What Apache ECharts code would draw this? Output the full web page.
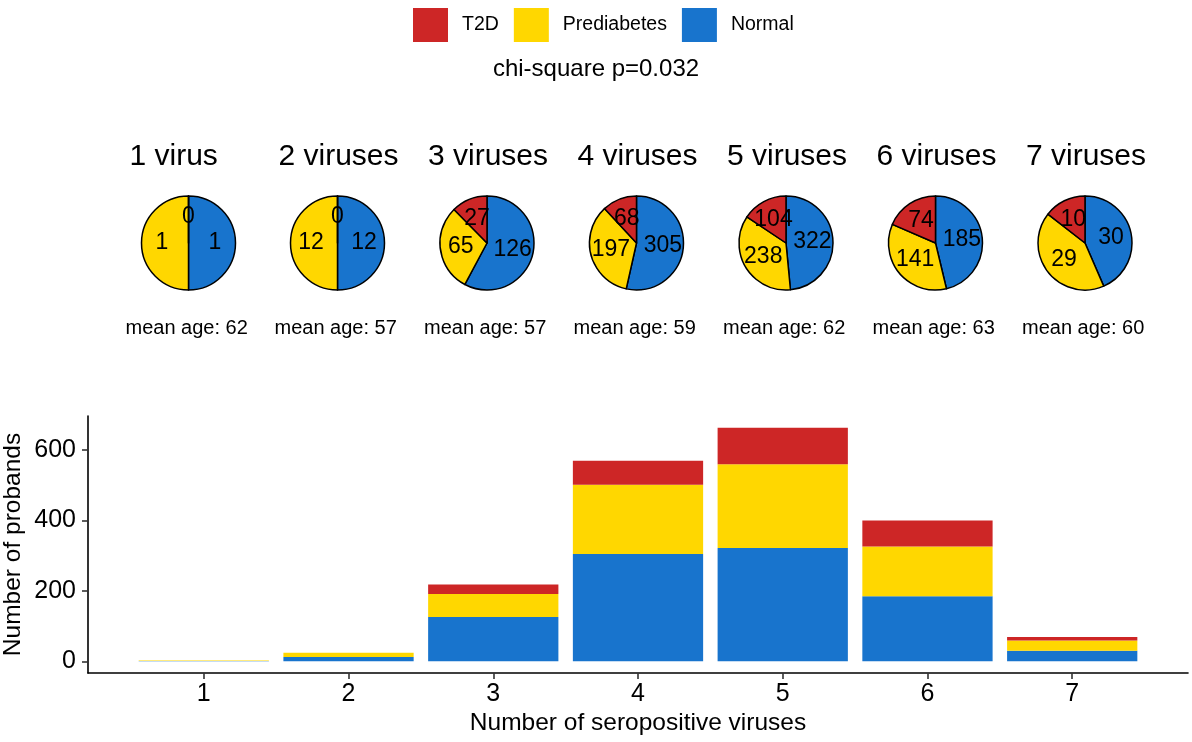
<!DOCTYPE html>
<html>
<head>
<meta charset="utf-8">
<script src="https://cdn.jsdelivr.net/npm/echarts@6/dist/echarts.min.js"></script>
<style>
html,body{margin:0;padding:0;background:#fff;}
#chart{width:1192px;height:742px;}
</style>
</head>
<body>
<div id="chart"></div>
<script>
const categories = ['1', '2', '3', '4', '5', '6', '7'];
const pieTitles = ['1 virus', '2 viruses', '3 viruses', '4 viruses', '5 viruses', '6 viruses', '7 viruses'];
const t2d = [0, 0, 27, 68, 104, 74, 10];
const prediabetes = [1, 12, 65, 197, 238, 141, 29];
const normal = [1, 12, 126, 305, 322, 185, 30];
const meanAge = [62, 57, 57, 59, 62, 63, 60];
const yTicks = [0, 200, 400, 600];
const subtitle = 'chi-square p=0.032';
const seriesNames = ['T2D', 'Prediabetes', 'Normal'];

const COLORS = { 'T2D': '#CD2626', 'Prediabetes': '#FFD700', 'Normal': '#1874CD' };
const FONT = '"Liberation Sans", Arial, sans-serif';

const pieCentersX = [188.5, 337.5, 487, 636.5, 786, 935.5, 1085];
const pieCY = 243;
const pieR = 47;

// panel geometry (ggplot-like discrete expansion)
const gridLeft = 88, gridRight = 4, gridTop = 416, gridBottom = 69;
const gridWidth = 1192 - gridLeft - gridRight;
const unit = gridWidth / 7.6;
const pad = 0.3 * unit;

const totals = normal.map((v, i) => t2d[i] + prediabetes[i] + v);
const maxTotal = Math.max(...totals);
const yMin = -0.05 * maxTotal, yMax = 1.05 * maxTotal;

const series = [];
const stackDefs = [['Normal', normal], ['Prediabetes', prediabetes], ['T2D', t2d]];
stackDefs.forEach(([name, vals]) => {
  series.push({
    type: 'bar', name: name, stack: 'total',
    xAxisIndex: 1, yAxisIndex: 1,
    barCategoryGap: '10%',
    itemStyle: { color: COLORS[name] },
    data: vals.slice()
  });
});

pieTitles.forEach((t, i) => {
  series.push({
    type: 'pie',
    name: t,
    center: [pieCentersX[i], pieCY],
    radius: pieR,
    startAngle: 90,
    clockwise: true,
    avoidLabelOverlap: false,
    silent: true,
    itemStyle: { borderColor: '#000', borderWidth: 1.5 },
    label: { show: true, position: 'inner', formatter: '{c}', color: '#000', fontSize: 23, fontFamily: FONT },
    labelLine: { show: false },
    data: [
      { name: 'Normal', value: normal[i], itemStyle: { color: COLORS['Normal'] } },
      { name: 'Prediabetes', value: prediabetes[i], itemStyle: { color: COLORS['Prediabetes'] } },
      { name: 'T2D', value: t2d[i], itemStyle: { color: COLORS['T2D'] } }
    ]
  });
});

const graphics = [];
graphics.push({
  type: 'text', x: 596, y: 69,
  style: { text: subtitle, font: '24px ' + FONT, fill: '#000', textAlign: 'center', textVerticalAlign: 'middle' }
});
pieTitles.forEach((t, i) => {
  graphics.push({
    type: 'text', x: pieCentersX[i] - 59, y: 157,
    style: { text: t, font: '30px ' + FONT, fill: '#000', textAlign: 'left', textVerticalAlign: 'middle' }
  });
  graphics.push({
    type: 'text', x: pieCentersX[i] - 63, y: 328,
    style: { text: 'mean age: ' + meanAge[i], font: '20px ' + FONT, fill: '#000', textAlign: 'left', textVerticalAlign: 'middle' }
  });
});

const chart = echarts.init(document.getElementById('chart'), null, { renderer: 'canvas' });
chart.setOption({
  animation: false,
  backgroundColor: '#fff',
  textStyle: { fontFamily: FONT },
  legend: {
    data: seriesNames,
    left: 408, top: 3,
    icon: 'rect',
    itemWidth: 35, itemHeight: 34, itemGap: 15,
    textStyle: { fontSize: 19.5, color: '#000', fontFamily: FONT, padding: [0, 0, 0, 9] },
    selectedMode: false
  },
  grid: [
    { left: gridLeft, right: gridRight, top: gridTop, bottom: gridBottom, containLabel: false, outerBoundsMode: 'none' },
    { left: gridLeft + pad, right: gridRight + pad, top: gridTop, bottom: gridBottom, containLabel: false, outerBoundsMode: 'none' }
  ],
  xAxis: [
    {
      type: 'value', gridIndex: 0, min: 0, max: 1,
      name: 'Number of seropositive viruses', nameLocation: 'middle', nameGap: 38,
      nameTextStyle: { fontSize: 24.5, color: '#000', fontFamily: FONT },
      axisLine: { show: true, onZero: false, lineStyle: { color: '#000', width: 1.6 } },
      axisTick: { show: false }, axisLabel: { show: false }, splitLine: { show: false }
    },
    {
      type: 'category', gridIndex: 1, data: categories, boundaryGap: true,
      axisLine: { show: false, onZero: false },
      axisTick: { show: true, alignWithLabel: true, length: 6, lineStyle: { color: '#333', width: 1.6 } },
      axisLabel: { fontSize: 25, color: '#000', margin: 9, fontFamily: FONT },
      splitLine: { show: false }
    }
  ],
  yAxis: [
    {
      type: 'value', gridIndex: 0, min: yMin, max: yMax,
      name: 'Number of probands', nameLocation: 'middle', nameGap: 62, nameRotate: 90,
      nameMoveOverlap: false,
      nameTextStyle: { fontSize: 24.5, color: '#000', fontFamily: FONT },
      axisLine: { show: true, onZero: false, lineStyle: { color: '#000', width: 1.6 } },
      axisTick: { show: true, length: 6, customValues: yTicks, lineStyle: { color: '#333', width: 1.6 } },
      axisLabel: { customValues: yTicks, fontSize: 25, color: '#000', margin: 12, fontFamily: FONT },
      splitLine: { show: false }
    },
    {
      type: 'value', gridIndex: 1, min: yMin, max: yMax, show: false,
      splitLine: { show: false }
    }
  ],
  graphic: graphics,
  series: series
});
</script>
</body>
</html>
